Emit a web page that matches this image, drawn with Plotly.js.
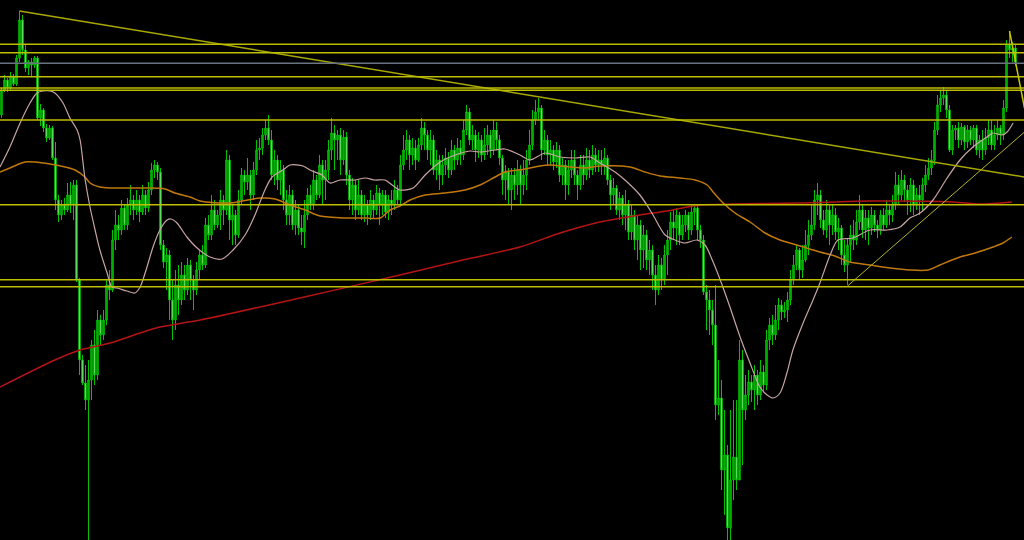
<!DOCTYPE html>
<html>
<head>
<meta charset="utf-8">
<script src="https://cdn.plot.ly/plotly-3.0.1.min.js"></script>
<style>html,body{margin:0;padding:0;background:#000;}#chart{width:1024px;height:540px;}</style>
</head>
<body>
<div id="chart"></div>
<script>
// Candle prices (arbitrary price units)
const openP = [
885,910,920,912,924,916,942,980,950,932,
938,935,942,882,890,872,862,872,842,800,
785,795,790,805,795,815,720,640,617,600,
620,655,625,680,665,680,715,710,760,775,
770,792,775,795,800,790,800,788,805,792,
810,830,835,828,755,738,745,700,680,715,
700,725,710,735,720,710,730,745,735,775,
765,790,775,785,800,790,840,780,785,765,
800,825,818,825,805,830,850,852,865,872,
860,825,840,820,830,800,785,805,775,790,
772,768,785,805,795,820,805,835,820,830,
850,867,860,865,840,863,825,800,815,790,
805,785,795,785,800,790,807,795,805,788,
800,795,810,800,835,850,860,845,852,840,
855,872,865,850,860,830,840,825,835,842,
830,850,840,852,845,870,888,860,865,850,
860,845,855,865,850,870,860,842,820,828,
810,825,815,830,815,825,840,855,880,888,
892,850,860,845,850,838,850,825,835,815,
830,840,825,815,835,825,840,830,845,835,
840,835,842,820,805,812,790,802,785,795,
768,785,760,775,750,765,740,750,725,710,
735,720,745,760,778,772,785,765,775,785,
770,788,792,770,760,708,700,690,675,595,
602,530,545,472,520,543,520,640,590,605,
618,610,625,605,628,615,660,675,665,680,
695,688,690,700,720,735,750,730,740,755,
765,775,800,805,780,770,790,775,785,768,
772,745,735,755,765,760,778,790,770,782,
772,785,775,770,785,775,790,785,795,815,
805,820,810,800,815,795,805,800,815,825,
832,840,870,895,902,905,890,850,870,872,
860,873,858,870,860,872,850,860,850,862,
870,855,865,872,865,892,955,950,952
];
const closeP = [
910,920,912,924,916,942,980,950,932,938,
935,942,882,890,872,862,872,842,800,785,
795,790,805,795,815,720,640,617,600,620,
655,625,680,665,680,715,710,760,775,770,
792,775,795,800,790,800,788,805,792,810,
830,835,828,755,738,745,700,680,715,700,
725,710,735,720,710,730,745,735,775,765,
790,775,785,800,790,840,780,785,765,800,
825,818,825,805,830,850,852,865,872,860,
825,840,820,830,800,785,805,775,790,772,
768,785,805,795,820,805,835,820,830,850,
867,860,865,840,863,825,800,815,790,805,
785,795,785,800,790,807,795,805,788,800,
795,810,800,835,850,860,845,852,840,855,
872,865,850,860,830,840,825,835,842,830,
850,840,852,845,870,888,860,865,850,860,
845,855,865,850,870,860,842,820,828,810,
825,815,830,815,825,840,855,880,888,892,
850,860,845,850,838,850,825,835,815,830,
840,825,815,835,825,840,830,845,835,840,
835,842,820,805,812,790,802,785,795,768,
785,760,775,750,765,740,750,725,710,735,
720,745,760,778,772,785,765,775,785,770,
788,792,770,760,708,700,690,675,595,602,
530,545,472,520,543,520,640,590,605,618,
610,625,605,628,615,660,675,665,680,695,
688,690,700,720,735,750,730,740,755,765,
775,800,805,780,770,790,775,785,768,772,
745,735,755,765,760,778,790,770,782,772,
785,775,770,785,775,790,785,795,815,805,
820,810,800,815,795,805,800,815,825,832,
840,870,895,902,905,890,850,870,872,860,
873,858,870,860,872,850,860,850,862,870,
855,865,872,865,892,955,950,952,938
];
const highP = [
912,925,922,928,926,945,989,985,955,940,
942,944,944,896,892,876,875,874,858,805,
800,802,817,818,820,820,722,645,635,640,
660,670,690,685,690,720,730,770,790,785,
800,795,802,815,805,810,805,815,810,818,
837,840,838,832,760,752,750,720,730,735,
738,735,742,740,725,738,750,755,782,785,
805,800,790,810,805,850,845,795,790,810,
832,830,842,830,838,860,862,872,880,885,
870,850,845,840,835,810,815,810,800,795,
785,800,812,815,830,825,845,840,840,860,
882,875,870,872,870,868,830,822,820,820,
810,805,800,810,805,815,812,810,810,805,
810,820,815,845,865,870,865,862,860,862,
882,878,870,870,865,850,845,845,852,848,
860,855,862,860,880,895,892,875,870,868,
865,872,875,870,880,878,865,845,835,832,
832,832,840,835,840,850,870,890,900,902,
895,870,865,860,855,858,855,842,840,840,
850,850,830,845,845,852,850,855,852,850,
850,852,845,825,822,815,808,805,810,800,
795,790,785,780,775,770,760,755,735,745,
742,755,770,788,790,792,788,785,790,788,
795,795,795,775,765,715,710,700,715,640,
620,590,555,590,600,600,660,650,625,630,
625,635,630,640,635,670,682,685,695,702,
700,698,708,730,745,755,752,755,770,780,
795,810,817,810,790,800,795,795,792,782,
775,760,762,775,780,790,805,795,790,790,
793,790,780,790,792,800,795,805,828,825,
830,825,815,822,820,812,815,822,835,842,
850,878,905,910,913,910,895,875,875,878,
877,875,875,874,875,875,865,870,872,880,
880,875,880,875,900,960,969,958,955
];
const lowP = [
882,908,908,910,914,914,938,945,928,925,
923,932,880,874,868,858,860,840,790,778,
780,785,788,787,780,718,625,615,590,455,
600,615,620,655,660,675,700,708,750,760,
765,770,770,785,780,785,778,785,785,788,
805,822,820,750,732,710,680,660,670,685,
695,700,705,700,690,705,720,730,732,760,
760,770,772,770,775,785,760,755,755,762,
795,805,810,790,800,825,840,845,860,855,
820,815,810,805,790,775,775,770,765,765,
755,752,780,790,790,800,802,795,800,820,
840,830,840,825,835,815,790,785,780,785,
780,778,775,780,782,785,775,785,782,780,
785,790,795,795,830,840,830,835,830,838,
850,850,840,835,825,820,810,815,825,822,
825,830,835,835,840,865,855,850,838,842,
838,840,845,842,845,850,835,805,800,795,
790,800,805,795,805,810,835,850,875,880,
840,845,835,835,830,832,818,815,800,805,
822,815,800,810,815,820,822,825,828,828,
825,825,815,790,795,785,780,775,770,760,
760,750,740,730,732,730,725,710,695,705,
710,715,725,750,760,755,755,760,768,760,
765,775,760,752,705,670,665,655,580,585,
510,485,460,460,500,510,530,535,580,595,
598,590,595,600,608,610,650,655,660,670,
680,682,678,695,715,730,720,722,738,745,
760,770,785,772,765,762,755,765,760,750,
735,728,715,738,750,755,770,762,760,755,
765,768,762,765,770,772,775,778,790,795,
800,798,785,788,785,790,785,790,808,820,
825,835,865,888,895,882,848,845,860,852,
855,850,852,855,852,845,842,840,845,855,
850,850,860,855,860,888,942,938,934
];

// Moving averages (candle index, price)
const maFastX = [-0.5,2.8,6.2,9.5,11.8,13.8,16.2,17.8,20.5,22.8,25.2,26.2,27.8,29.5,31.2,32.8,35.2,36.8,38.5,41.8,44.5,46.2,48.5,50.5,52.8,55.2,56.5,58.5,61.8,65.2,69.5,73.5,77.2,81.2,84.5,87.8,90.2,93.8,96.2,100.5,102.8,106.8,109.5,112.8,117.8,121.2,124.5,127.8,130.2,132.8,137.2,141.2,146.2,151.2,156.2,159.5,164.5,167.8,172.8,176.2,181.2,186.2,191.2,196.2,199.5,204.5,207.8,212.8,216.8,221.2,224.5,227.8,231.8,234.5,237.2,240.2,242.8,246.2,249.5,252.8,255.2,257.2,259.5,261.8,263.8,267.2,270.5,272.8,276.2,278.8,283.8,289.5,295.2,299.5,302.8,306.2,310.5,315.2,319.5,323.8,328.5,330.5,333.5,335.2,337.2];
const maFastY = [833,853,877,897,907,909,909,907,897,882,870,860,822,793,770,750,727,713,712,709,707,713,733,753,770,780,781,777,763,752,743,741,750,765,785,810,823,830,835,834,830,825,817,820,820,822,820,820,815,810,812,825,838,845,849,848,850,851,845,840,847,843,842,843,837,828,820,805,787,765,760,757,760,755,738,715,693,663,637,613,605,602,607,627,650,677,700,717,745,760,762,770,770,773,782,787,800,822,840,853,863,867,865,868,877];
const maMidX = [-0.5,2.8,7.8,11.2,16.2,21.2,24.5,27.8,29.5,32.8,36.2,49.5,54.5,57.8,62.8,66.2,76.2,86.2,91.2,96.2,101.2,106.2,114.5,121.2,126.2,129.5,132.8,136.2,141.2,147.8,154.5,159.5,164.5,167.8,174.5,179.5,182.8,189.5,194.5,199.5,209.5,214.5,219.5,226.2,231.2,235.2,237.2,240.2,244.5,249.5,254.5,259.5,262.8,266.2,272.8,277.8,282.8,289.5,296.2,302.8,308.8,312.8,319.5,324.5,330.5,333.8,336.8];
const maMidY = [828,832,838,838,836,833,830,823,817,813,812,812,811,807,803,799,797,802,801,795,790,784,782,782,782,790,794,800,805,807,810,815,823,828,831,834,835,833,832,834,833,828,824,822,820,815,808,798,787,778,767,760,757,754,748,744,738,735,732,730,730,735,743,747,753,757,763];
const maSlowX = [-0.5,17.8,26.2,36.2,46.2,52.8,66.2,99.5,132.8,153.8,172.8,186.2,199.5,212.8,221.8,232.8,243.8,266.2,289.5,317.2,326.2,336.8];
const maSlowY = [613,640,650,657,667,673,680,702,725,740,753,767,778,785,789,795,796,797,799,798,796,798];

// Horizontal levels
const levels = [955.7, 947.3, 923.3, 912, 909.7, 880, 795.3, 720.3, 713.3];
const greyLevels = [936.7];

// Trend lines (candle index, price)
const trendDownX = [6, 341];
const trendDownY = [989, 823];
const trendUpX = [282, 341];
const trendUpY = [714, 868];
const trendShortX = [336, 341];
const trendShortY = [969, 892];

const idx = openP.map((_, i) => i);

const traces = [
  {
    type: 'candlestick', x: idx, open: openP, high: highP, low: lowP, close: closeP,
    increasing: {line: {color: '#00C400', width: 1}, fillcolor: '#009C00'},
    decreasing: {line: {color: '#00C400', width: 1}, fillcolor: '#A8F2A8'},
    whiskerwidth: 0, hoverinfo: 'skip'
  },
  {type: 'scatter', mode: 'lines', x: maSlowX, y: maSlowY, line: {color: '#B41414', width: 1.5, shape: 'spline', smoothing: 0.8}, hoverinfo: 'skip'},
  {type: 'scatter', mode: 'lines', x: maMidX, y: maMidY, line: {color: '#C0780C', width: 1.5, shape: 'spline', smoothing: 0.8}, hoverinfo: 'skip'},
  {type: 'scatter', mode: 'lines', x: maFastX, y: maFastY, line: {color: '#C8A4A4', width: 1.2, shape: 'spline', smoothing: 0.8}, hoverinfo: 'skip'},
  {type: 'scatter', mode: 'lines', x: trendDownX, y: trendDownY, line: {color: '#A8A800', width: 1.5}, hoverinfo: 'skip'},
  {type: 'scatter', mode: 'lines', x: trendUpX, y: trendUpY, line: {color: '#B4B428', width: 1}, hoverinfo: 'skip'},
  {type: 'scatter', mode: 'lines', x: trendShortX, y: trendShortY, line: {color: '#C8C800', width: 1.5}, hoverinfo: 'skip'}
];

const shapes = levels.map(l => ({
  type: 'line', xref: 'paper', x0: 0, x1: 1, yref: 'y', y0: l, y1: l,
  line: {color: '#BEBE00', width: 1.5}
})).concat(greyLevels.map(l => ({
  type: 'line', xref: 'paper', x0: 0, x1: 1, yref: 'y', y0: l, y1: l,
  line: {color: '#6A7480', width: 1.5}
})));

const layout = {
  width: 1024, height: 540,
  margin: {l: 0, r: 0, t: 0, b: 0, pad: 0},
  paper_bgcolor: '#000000', plot_bgcolor: '#000000',
  showlegend: false,
  xaxis: {range: [-0.5, 340.83], visible: false, rangeslider: {visible: false}, fixedrange: true},
  yaxis: {range: [460, 1000], visible: false, fixedrange: true},
  shapes: shapes
};

Plotly.newPlot('chart', traces, layout, {displayModeBar: false, staticPlot: true});
</script>
</body>
</html>
